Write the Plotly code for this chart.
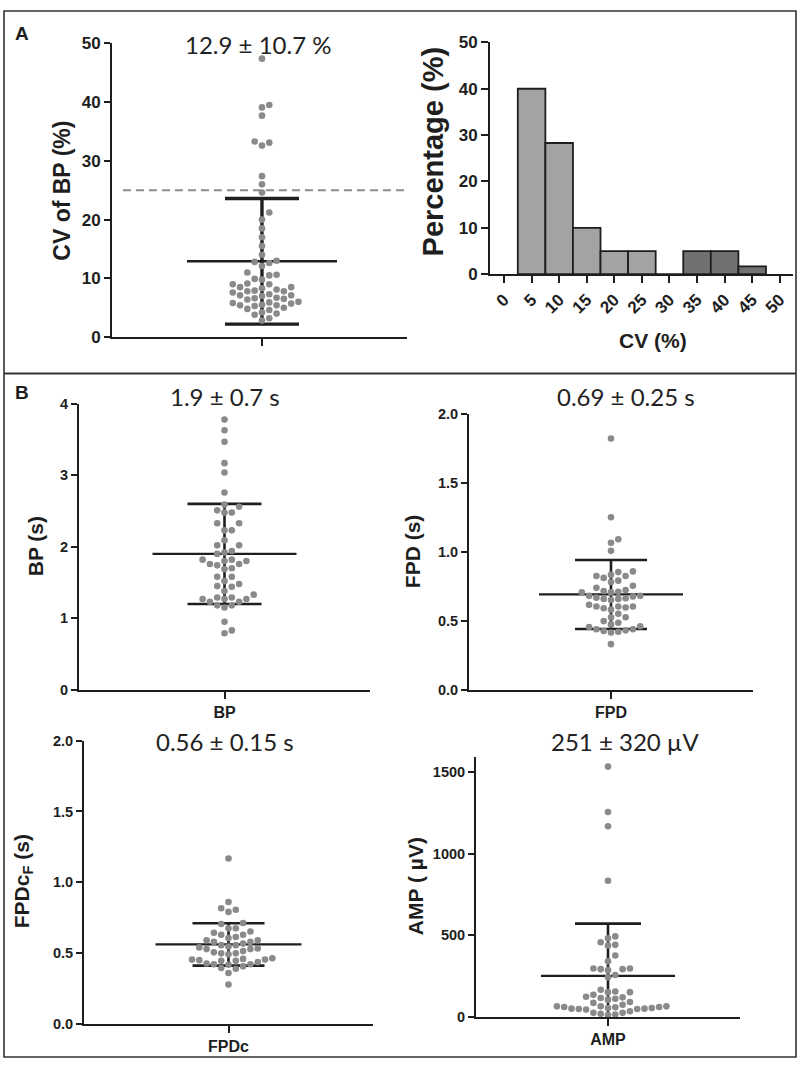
import plotly.graph_objects as go

W, H = 800, 1070

# ---------------- data ----------------
cv_bp = [47.4, 39.5, 39.1, 37.7, 33.3, 33.1, 32.6, 27.4, 26.0, 24.6,
         21.2, 20.0, 18.5, 17.0, 15.5, 14.0, 13.0, 12.8, 12.6,
         12.1, 11.0, 10.6, 10.5, 9.9, 9.8, 9.0, 9.0, 9.1, 8.5, 8.5, 8.3, 8.1, 7.9, 7.8, 7.8, 7.6,
         7.3, 7.1, 7.0, 7.1, 6.7, 6.6, 6.5, 6.4, 6.0, 5.9, 5.8, 5.7, 5.5, 5.4, 5.4, 5.3,
         5.0, 4.8, 4.6, 4.2, 4.0, 3.8, 3.2, 2.8]
cv_mean, cv_sd = 12.9, 10.7
cv_threshold = 25

hist_centers = [5, 10, 15, 20, 25, 30, 35, 40, 45]
hist_pct = [40.0, 28.3, 10.0, 5.0, 5.0, 0.0, 5.0, 5.0, 1.7]
hist_ticks = [0, 5, 10, 15, 20, 25, 30, 35, 40, 45, 50]

bp = [3.78, 3.63, 3.47, 3.17, 3.04, 2.76, 2.59, 2.56, 2.48, 2.48, 2.51, 2.33, 2.33,
      2.23, 2.23, 2.09, 2.02, 2.02, 1.94, 1.92, 1.90, 1.82, 1.82, 1.80, 1.80, 1.76,
      1.76, 1.74, 1.70, 1.69, 1.58, 1.58, 1.52, 1.48, 1.45, 1.44, 1.38, 1.33, 1.29,
      1.29, 1.27, 1.27, 1.27, 1.23, 1.23, 1.18, 1.18, 1.15, 0.95, 0.83, 0.79]
bp_mean, bp_sd = 1.9, 0.7

fpd = [1.82, 1.25, 1.09, 1.065, 1.006, 0.857, 0.852, 0.833, 0.824, 0.824, 0.81, 0.79,
       0.78, 0.753, 0.738, 0.722, 0.715, 0.71, 0.705, 0.705, 0.68, 0.68, 0.675, 0.667,
       0.663, 0.658, 0.658, 0.65, 0.615, 0.603, 0.603, 0.603, 0.596, 0.59, 0.58, 0.55,
       0.525, 0.525, 0.497, 0.485, 0.473, 0.46, 0.454, 0.438, 0.438, 0.43, 0.426, 0.42,
       0.414, 0.33]
fpd_mean, fpd_sd = 0.69, 0.25

fpdc = [1.168, 0.86, 0.816, 0.805, 0.79, 0.712, 0.705, 0.675, 0.675, 0.652, 0.643,
        0.629, 0.629, 0.613, 0.606, 0.59, 0.59, 0.578, 0.578, 0.566, 0.555, 0.546,
        0.555, 0.539, 0.532, 0.527, 0.527, 0.513, 0.504, 0.497, 0.497, 0.49, 0.462,
        0.458, 0.453, 0.453, 0.449, 0.444, 0.444, 0.435, 0.425, 0.42, 0.42, 0.416,
        0.405, 0.393, 0.388, 0.358, 0.277]
fpdc_mean, fpdc_sd = 0.56, 0.15

amp = [1534, 1256, 1168, 834, 493, 481, 457, 441, 437, 376, 340, 296, 292, 292, 296,
       286, 256, 242, 165, 155, 151, 151, 135, 123, 119, 115, 111, 105, 91, 85, 74, 64,
       64, 64, 60, 60, 58, 54, 54, 50, 50, 48, 48, 44, 34, 24, 24, 18, 14, 10]
amp_mean, amp_sd = 251, 320

# ---------------- styling ----------------
DOT = "#8a8a8a"
INK = "#1e1e1e"
LIGHT_BAR = "#a3a3a3"
DARK_BAR = "#717171"
BOLD_FONT = "Liberation Sans, Arial, sans-serif"
TITLE_FONT = "Lato, Open Sans, sans-serif"


def px_x(p):
    return p / W


def px_y(p):
    return 1 - p / H


def swarm(values, yr, h_px, spacing=7.3, dmin=7.3):
    scale = h_px / (yr[1] - yr[0])
    cols = {}
    res = [0] * len(values)
    order = sorted(range(len(values)), key=lambda i: values[i])
    seq = [0]
    for k in range(1, 40):
        seq += [k, -k]
    for i in order:
        ypx = values[i] * scale
        for k in seq:
            if all(abs(ypx - yy) >= dmin for yy in cols.get(k, [])):
                cols.setdefault(k, []).append(ypx)
                res[i] = k
                break
    return [k * spacing for k in res]


fig = go.Figure()
layout = dict(width=W, height=H, margin=dict(l=0, r=0, t=0, b=0),
              paper_bgcolor="white", plot_bgcolor="white", showlegend=False)
annotations = []
shapes = []

panels = [
    (1, cv_bp, cv_mean, cv_sd, (112, 407, 35, 334), [0, 50], [-1, 0.967], [0, 10, 20, 30, 40, 50], "",
     None, 75, 37, 3.4, f"{cv_mean} ± {cv_sd} %", (258, 36), "CV of BP (%)", (62, 185), 17, 23, 2.4),
    (3, bp, bp_mean, bp_sd, (79, 370, 402, 693), [0, 4], [-1, 1], [0, 1, 2, 3, 4], "",
     "BP", 72, 37, 2.6, f"{bp_mean} ± {bp_sd} s", (225, 395), "BP (s)", (35, 547), 14.5, 21, 2.2),
    (4, fpd, fpd_mean, fpd_sd, (469, 753, 412, 693), [0, 2], [-1, 1], [0, 0.5, 1, 1.5, 2], ".1f",
     "FPD", 72, 36, 2.6, f"{fpd_mean} ± {fpd_sd} s", (626, 395), "FPD (s)", (412, 552), 14.5, 21, 2.2),
    (5, fpdc, fpdc_mean, fpdc_sd, (84, 373, 745, 1033), [0, 2], [-1, 1], [0, 0.5, 1, 1.5, 2], ".1f",
     "FPDc", 73, 36, 2.6, f"{fpdc_mean} ± {fpdc_sd} s", (225, 746), "FPDc<sub>F</sub> (s)", (23, 888), 14.5, 21, 2.2),
    (6, amp, amp_mean, amp_sd, (476, 740, 762, 1026), [0, 1590], [-1, 1], [0, 500, 1000, 1500], "",
     "AMP", 67, 33, 2.6, f"{amp_mean} ± {amp_sd} µV", (625, 746), "AMP ( µV)", (415, 893), 14.5, 21, 2.2),
]

for (pid, vals, m, s, box, yr, xr, yticks, tfmt, cat, mh, ch, sdw, ttl, tpos,
     ytitle, ypos, tfs, yfs, mw) in panels:
    x0, x1, yt, yb = box
    xs = "x" if pid == 1 else f"x{pid}"
    ys = "y" if pid == 1 else f"y{pid}"
    xk = "xaxis" if pid == 1 else f"xaxis{pid}"
    yk = "yaxis" if pid == 1 else f"yaxis{pid}"
    xppu = (x1 - x0) / (xr[1] - xr[0])
    offs = [o / xppu for o in swarm(vals, yr, yb - yt)]
    mhd, chd = mh / xppu, ch / xppu
    fig.add_trace(go.Scatter(
        x=[-chd, chd, None, 0, 0, None, -chd, chd],
        y=[m + s, m + s, None, m + s, m - s, None, m - s, m - s],
        mode="lines", line=dict(color=INK, width=sdw), xaxis=xs, yaxis=ys, hoverinfo="skip"))
    fig.add_trace(go.Scatter(x=[-mhd, mhd], y=[m, m], mode="lines",
                             line=dict(color=INK, width=mw), xaxis=xs, yaxis=ys, hoverinfo="skip"))
    fig.add_trace(go.Scatter(x=offs, y=vals, mode="markers",
                             marker=dict(color=DOT, size=6.6, line=dict(width=0)),
                             cliponaxis=False, xaxis=xs, yaxis=ys))
    xa = dict(domain=[px_x(x0), px_x(x1)], range=xr, anchor=ys,
              showline=True, linewidth=2, linecolor=INK, showgrid=False, zeroline=False,
              ticks="outside", ticklen=7, tickwidth=2, tickcolor=INK, tickvals=[0],
              tickfont=dict(family=BOLD_FONT, size=16, color=INK, weight="bold"))
    if cat is None:
        xa["showticklabels"] = False
    else:
        xa["ticktext"] = [cat]
    layout[xk] = xa
    layout[yk] = dict(domain=[px_y(yb), px_y(yt)], range=yr, anchor=xs,
                      showline=True, linewidth=2, linecolor=INK, showgrid=False, zeroline=False,
                      ticks="outside", ticklen=6, tickwidth=2, tickcolor=INK,
                      tickvals=yticks, tickformat=tfmt,
                      tickfont=dict(family=BOLD_FONT, size=tfs, color=INK, weight="bold"))
    annotations.append(dict(text=ttl, x=px_x(tpos[0]), y=px_y(tpos[1]), xref="paper", yref="paper",
                            xanchor="center", yanchor="middle", showarrow=False,
                            font=dict(family=TITLE_FONT, size=24, color="#222")))
    annotations.append(dict(text=f"<b>{ytitle}</b>", x=px_x(ypos[0]), y=px_y(ypos[1]),
                            xref="paper", yref="paper", textangle=-90,
                            xanchor="center", yanchor="middle", showarrow=False,
                            font=dict(family=BOLD_FONT, size=yfs, color=INK)))

shapes.append(dict(type="line", xref="x domain", yref="y", x0=0.037, x1=1,
                   y0=cv_threshold, y1=cv_threshold,
                   line=dict(color="#8c8c8c", width=2, dash="8px,5px"), layer="below"))

# ---------------- histogram ----------------
bar_colors = [DARK_BAR if c > 30 else LIGHT_BAR for c in hist_centers]
fig.add_trace(go.Bar(x=hist_centers, y=hist_pct, width=5,
                     marker=dict(color=bar_colors, line=dict(color=INK, width=1.8)),
                     xaxis="x2", yaxis="y2"))
hx0, hx1, hyt, hyb = 490, 793, 34, 270
layout["xaxis2"] = dict(domain=[px_x(hx0), px_x(hx1)], range=[-2.54, 52.4], anchor="y2",
                        showline=True, linewidth=2, linecolor=INK, showgrid=False, zeroline=False,
                        ticks="outside", ticklen=7, tickwidth=2, tickcolor=INK,
                        tickvals=hist_ticks, tickangle=-45,
                        tickfont=dict(family=BOLD_FONT, size=17, color=INK, weight="bold"))
layout["yaxis2"] = dict(domain=[px_y(hyb), px_y(hyt)], range=[0, 50], anchor="x2",
                        showline=True, linewidth=2, linecolor=INK, showgrid=False, zeroline=False,
                        ticks="outside", ticklen=7, tickwidth=2, tickcolor=INK,
                        tickvals=[0, 10, 20, 30, 40, 50],
                        tickfont=dict(family=BOLD_FONT, size=17, color=INK, weight="bold"))
annotations.append(dict(text="<b>Percentage (%)</b>", x=px_x(433), y=px_y(145), xref="paper", yref="paper",
                        textangle=-90, xanchor="center", yanchor="middle", showarrow=False,
                        font=dict(family=BOLD_FONT, size=29, color=INK)))
annotations.append(dict(text="<b>CV (%)</b>", x=px_x(653), y=px_y(338), xref="paper", yref="paper",
                        xanchor="center", yanchor="middle", showarrow=False,
                        font=dict(family=BOLD_FONT, size=21, color=INK)))

annotations.append(dict(text="<b>A</b>", x=px_x(22), y=px_y(25), xref="paper", yref="paper",
                        xanchor="center", yanchor="middle", showarrow=False,
                        font=dict(family=BOLD_FONT, size=19, color=INK)))
annotations.append(dict(text="<b>B</b>", x=px_x(22), y=px_y(390), xref="paper", yref="paper",
                        xanchor="center", yanchor="middle", showarrow=False,
                        font=dict(family=BOLD_FONT, size=19, color=INK)))

shapes.append(dict(type="rect", xref="paper", yref="paper", x0=px_x(4), x1=px_x(796),
                   y0=px_y(1067), y1=px_y(2), line=dict(color="#333", width=1.6)))
shapes.append(dict(type="line", xref="paper", yref="paper", x0=px_x(4), x1=px_x(796),
                   y0=px_y(371), y1=px_y(371), line=dict(color="#333", width=2)))

layout["annotations"] = annotations
layout["shapes"] = shapes
fig.update_layout(**layout)
fig.write_html("out.html", config={"displayModeBar": False},
               post_script="document.body.style.margin='0';document.body.style.overflow='hidden';")
